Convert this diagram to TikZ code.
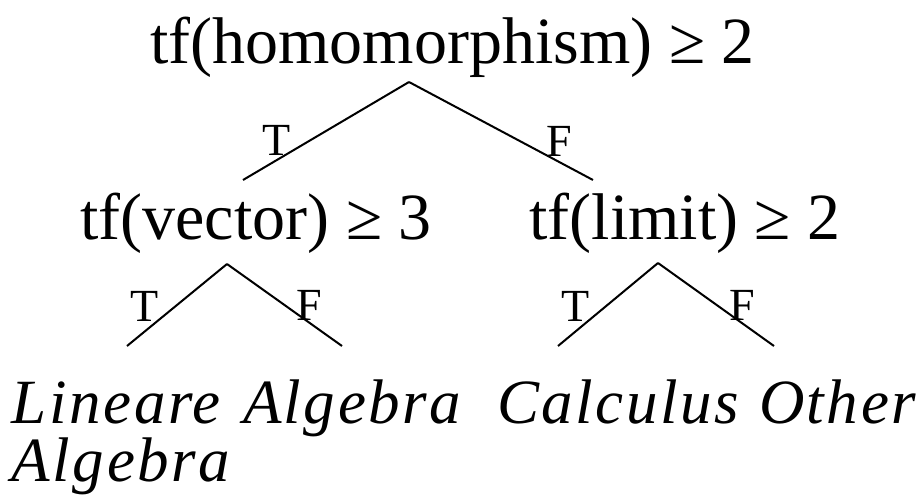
\documentclass[tikz,border=0pt]{standalone}
\usepackage{fontspec}
\setmainfont{Liberation Serif}
\newfontfamily\leaffont[LetterSpace=4]{Liberation Serif}
\begin{document}
\begin{tikzpicture}[x=1pt,y=-1pt,
  inner/.style={inner sep=0pt,outer sep=0pt,anchor=base,font=\fontsize{66}{70}\selectfont},
  lbl/.style={inner sep=0pt,outer sep=0pt,anchor=base,font=\fontsize{46}{50}\selectfont},
  leaf/.style={inner sep=0pt,outer sep=0pt,anchor=base west,align=left,font=\leaffont\itshape\fontsize{63}{58}\selectfont},
  edge/.style={line width=2pt}]
\useasboundingbox (0,0) rectangle (924,501);
\node[inner] (root) at (452.5,63) {tf(homomorphism) ≥ 2};
\node[inner] (vec) at (256,239) {tf(vector) ≥ 3};
\node[inner] (lim) at (685,239) {tf(limit) ≥ 2};
\coordinate (rA) at (409,82);
\coordinate (rL) at (243,180);
\coordinate (rR) at (593,180);
\coordinate (vA) at (227,264);
\coordinate (vL) at (127,346);
\coordinate (vR) at (342,346);
\coordinate (lA) at (658,263);
\coordinate (lL) at (558,346);
\coordinate (lR) at (774,346);
\draw[edge] (rA) -- (rL);
\draw[edge] (rA) -- (rR);
\draw[edge] (vA) -- (vL);
\draw[edge] (vA) -- (vR);
\draw[edge] (lA) -- (lL);
\draw[edge] (lA) -- (lR);
\node[lbl] (rT) at (277,155) {T};
\node[lbl] (rF) at (559,156) {F};
\node[lbl] (vT) at (145,321) {T};
\node[lbl] (vF) at (309,320) {F};
\node[lbl] (lT) at (576,321) {T};
\node[lbl] (lF) at (742,320) {F};
\node[leaf] (l1) at (12,481) {Lineare\\Algebra};
\node[leaf] (l2) at (243,423) {Algebra};
\node[leaf] (l3) at (497,423) {Calculus};
\node[leaf] (l4) at (759,423) {Other};
\end{tikzpicture}
\end{document}
